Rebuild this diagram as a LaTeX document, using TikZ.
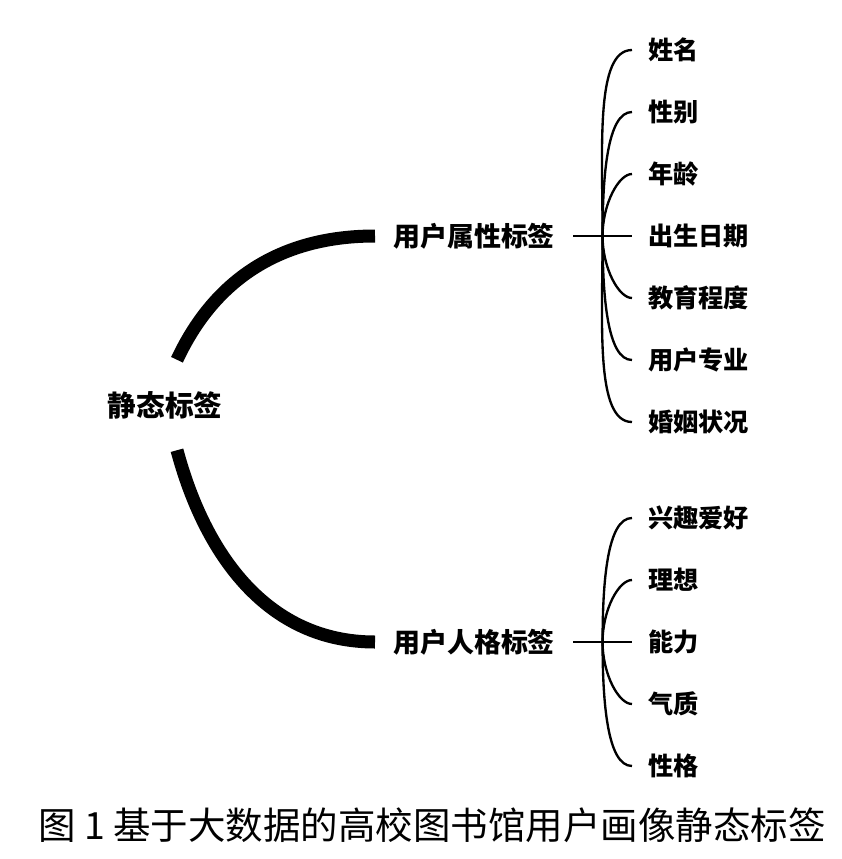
\documentclass[tikz,border=0pt]{standalone}
\usepackage{fontspec}
\newfontfamily\cjk{Noto Sans CJK SC}
\usetikzlibrary{calc}

\begin{document}
\begin{tikzpicture}[x=0.03cm, y=-0.03cm,
    root/.style={font=\cjk\bfseries\fontsize{24.5}{26}\selectfont, minimum height=2.7cm, inner sep=0},
    group/.style={font=\cjk\bfseries\fontsize{23}{25}\selectfont, anchor=west, inner xsep=0.54cm, inner ysep=0},
    leaf/.style={font=\cjk\bfseries\fontsize{21.5}{23}\selectfont, anchor=west, inner xsep=0.48cm, inner ysep=0},
    arm/.style={line width=0.39cm},
    twig/.style={line width=2pt, out looseness=1.2, in looseness=0.5}]
        \useasboundingbox (0,0) rectangle (842,859);

        % Root
        \node[root] (static) at (165,405) {静态标签};

        % Groups
        \node[group] (attr) at (375,236) {用户属性标签};
        \node[group] (pers) at (375,642) {用户人格标签};

        % Arms
        \draw[arm] ([xshift=0.36cm]static.north) to[out=65, in=180] (attr.west);
        \draw[arm] ([xshift=0.36cm]static.south) to[out=-75, in=180] (pers.west);

        % Attribute leaves
        \foreach \name [count=\i] in {姓名,性别,年龄,出生日期,教育程度,用户专业,婚姻状况}
            \node[leaf] (a\i) at (632, {50+62*(\i-1)}) {\name};
        \coordinate (attrj) at ($(attr.east)!0.5!(a4.west)$);
        \draw[twig] (attr.east) -- (a4.west);
        \foreach \i in {1,2,3}
            \draw[twig] (attrj) to[out=90, in=180] (a\i.west);
        \foreach \i in {5,6,7}
            \draw[twig] (attrj) to[out=-90, in=180] (a\i.west);

        % Personality leaves
        \foreach \name [count=\i] in {兴趣爱好,理想,能力,气质,性格}
            \node[leaf] (p\i) at (632, {518+62*(\i-1)}) {\name};
        \coordinate (persj) at ($(pers.east)!0.5!(p3.west)$);
        \draw[twig] (pers.east) -- (p3.west);
        \foreach \i in {1,2}
            \draw[twig] (persj) to[out=90, in=180] (p\i.west);
        \foreach \i in {4,5}
            \draw[twig] (persj) to[out=-90, in=180] (p\i.west);

        % Caption
        \node[font=\cjk\fontsize{32}{34}\selectfont] (caption) at (432,825) {图 1 基于大数据的高校图书馆用户画像静态标签};
    \end{tikzpicture}
\end{document}
